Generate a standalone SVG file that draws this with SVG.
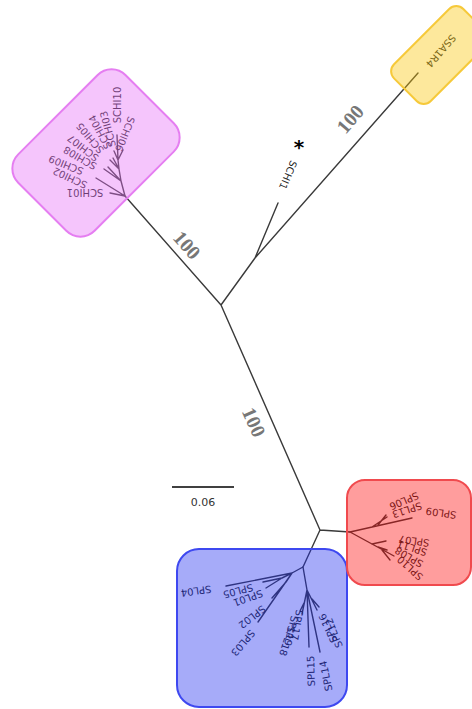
<svg xmlns="http://www.w3.org/2000/svg" width="472" height="709" viewBox="0 0 472 709">
<style>
.br{fill:none;stroke:#3a3a3a;stroke-width:1.4;stroke-linecap:round}
.lab{font-family:"DejaVu Sans",Verdana,sans-serif;font-size:10px;fill:#1e1e1e;text-anchor:middle;dominant-baseline:central}
.bs{font-family:"Liberation Serif","DejaVu Serif",serif;font-size:20px;font-weight:bold;fill:#777;text-anchor:middle;dominant-baseline:central}
.ov{stroke-width:2}
</style>
<rect width="472" height="709" fill="#fff"/>
<g id="connectors" class="br">
<path d="M221,305L125,196M221,305L255,258M255,258L278,203M255,258L418,73M221,305L320,530M320,530L350,532M320,530L303,567"/>
<path d="M125,196L110,193M125,196L96,178M125,196L121,181M121,181L104,169M121,181L108,167M121,181L119,169M119,169L110,160M119,169L113,158M119,169L118,160M118,160L117,135M118,160L123,150M118,160L114,151"/>
<path d="M303,567L292,573M292,573L226,586M292,573L282,578M282,578L263,582M282,578L266,588M292,573L286,582M286,582L272,598M292,573L258,622M303,567L307,590M307,590L302,614M304,603L300,611M307,590L309,647M307,590L320,652M307,590L317,610M312,599L319,607"/>
<path d="M350,532L412,518M372,527L387,517M378,525L386,515M350,532L394,556M372,544L386,541M378,547L387,550M382,550L390,560"/>
</g>
<g id="bootstrap">
<text class="bs" transform="translate(187,245) rotate(49)">100</text>
<text class="bs" transform="translate(350,119) rotate(-49)">100</text>
<text class="bs" transform="translate(254,422) rotate(66)">100</text>
</g>
<text id="star" x="299" y="154" font-family="DejaVu Sans,sans-serif" font-size="20" font-weight="bold" text-anchor="middle" fill="#000">*</text>
<g id="leaves">
<g id="SCHI10"><text class="lab" transform="translate(117,105) rotate(-90)">SCHI10</text></g>
<g id="SCHI06"><text class="lab" transform="translate(125,134) rotate(112)">SCHI06</text></g>
<g id="SCHI03"><text class="lab" transform="translate(108,129) rotate(-105)">SCHI03</text></g>
<g id="SCHI04"><text class="lab" transform="translate(100,132) rotate(-118)">SCHI04</text></g>
<g id="SCHI05"><text class="lab" transform="translate(90,138) rotate(-130)">SCHI05</text></g>
<g id="SCHI07"><text class="lab" transform="translate(83,148) rotate(-142)">SCHI07</text></g>
<g id="SCHI08"><text class="lab" transform="translate(80,158) rotate(-150)">SCHI08</text></g>
<g id="SCHI09"><text class="lab" transform="translate(66,165) rotate(-158)">SCHI09</text></g>
<g id="SCHI02"><text class="lab" transform="translate(70,178) rotate(-155)">SCHI02</text></g>
<g id="SCHI01"><text class="lab" transform="translate(85,192) rotate(180)">SCHI01</text></g>
<g id="SCHI1"><text class="lab" transform="translate(288,175) rotate(113)">SCHI1</text></g>
<g id="SSA1R4"><text class="lab" transform="translate(441,51) rotate(131)">SSA1R4</text></g>
<g id="SPL04"><text class="lab" transform="translate(196,591) rotate(172)">SPL04</text></g>
<g id="SPL05"><text class="lab" transform="translate(238,591) rotate(165)">SPL05</text></g>
<g id="SPL01"><text class="lab" transform="translate(248,598) rotate(160)">SPL01</text></g>
<g id="SPL02"><text class="lab" transform="translate(252,617) rotate(142)">SPL02</text></g>
<g id="SPL03"><text class="lab" transform="translate(243,643) rotate(130)">SPL03</text></g>
<g id="SPL17"><text class="lab" transform="translate(297,625) rotate(100)">SPL17</text></g>
<g id="SPL19"><text class="lab" transform="translate(291,631) rotate(104)">SPL19</text></g>
<g id="SPL18"><text class="lab" transform="translate(287,641) rotate(108)">SPL18</text></g>
<g id="SPL16"><text class="lab" transform="translate(328,628) rotate(-115)">SPL16</text></g>
<g id="SPL12"><text class="lab" transform="translate(334,633) rotate(-112)">SPL12</text></g>
<g id="SPL15"><text class="lab" transform="translate(311,671) rotate(-92)">SPL15</text></g>
<g id="SPL14"><text class="lab" transform="translate(326,676) rotate(-102)">SPL14</text></g>
<g id="SPL06"><text class="lab" transform="translate(404,501) rotate(157)">SPL06</text></g>
<g id="SPL13"><text class="lab" transform="translate(407,510) rotate(162)">SPL13</text></g>
<g id="SPL09"><text class="lab" transform="translate(441,513) rotate(188)">SPL09</text></g>
<g id="SPL07"><text class="lab" transform="translate(414,541) rotate(188)">SPL07</text></g>
<g id="SPL11"><text class="lab" transform="translate(412,548) rotate(198)">SPL11</text></g>
<g id="SPL08"><text class="lab" transform="translate(409,557) rotate(210)">SPL08</text></g>
<g id="SPL10"><text class="lab" transform="translate(410,568) rotate(222)">SPL10</text></g>
</g>
<g id="clade-yellow"><rect class="ov" x="-49" y="-26" width="98" height="52" rx="10" transform="translate(440,55) rotate(-45)" fill="rgb(250,197,7)" fill-opacity="0.4" stroke="#f6c93a"/></g>
<g id="clade-pink"><rect class="ov" x="-76" y="-54" width="152" height="108" rx="20" transform="translate(96,153) rotate(-45)" fill="rgb(230,110,247)" fill-opacity="0.4" stroke="#e57ef1"/></g>
<g id="clade-blue"><rect class="ov" x="177" y="549" width="170" height="158" rx="22" fill="rgb(32,45,240)" fill-opacity="0.4" stroke="#3e48f0"/></g>
<g id="clade-red"><rect class="ov" x="347" y="480" width="124" height="105" rx="18" fill="rgb(255,10,10)" fill-opacity="0.4" stroke="#f04a4e"/></g>
<g id="scalebar">
<line x1="172" y1="487" x2="234" y2="487" stroke="#000" stroke-width="1.5"/>
<text x="203" y="502" font-family="DejaVu Sans,sans-serif" font-size="11" fill="#333" text-anchor="middle" dominant-baseline="central">0.06</text>
</g>
</svg>
